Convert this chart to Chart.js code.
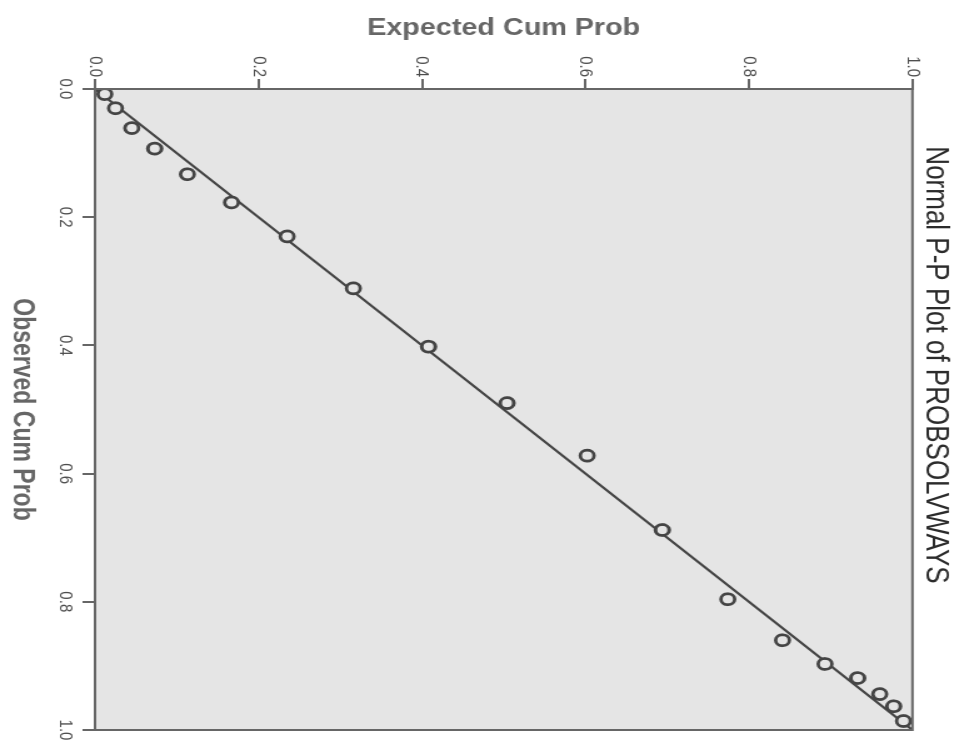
<!DOCTYPE html>
<html>
<head>
<meta charset="utf-8">
<title>Normal P-P Plot of PROBSOLVWAYS</title>
<script src="https://cdn.jsdelivr.net/npm/chart.js@4/dist/chart.umd.min.js"></script>
<style>
  html, body { margin: 0; padding: 0; background: #fff; overflow: hidden; }
  #wrap { position: relative; width: 969px; height: 748px; overflow: hidden; }
  /* the scanned page is turned a quarter clockwise and stretched a bit sideways */
  #pp_chart {
    position: absolute; left: 0; top: 0;
    transform-origin: 0 0;
    transform: translateX(969px) scaleX(1.2503) rotate(90deg);
  }
</style>
</head>
<body>
<div id="wrap"><canvas id="pp_chart" width="748" height="775"></canvas></div>
<script>
// observed vs expected cumulative probabilities, one pair per case
const observed_cum = [0.008, 0.030, 0.061, 0.093, 0.133, 0.177, 0.230, 0.311, 0.402, 0.490,
                      0.572, 0.688, 0.796, 0.860, 0.897, 0.919, 0.944, 0.963, 0.986];
const expected_cum = [0.012, 0.025, 0.045, 0.073, 0.113, 0.167, 0.235, 0.316, 0.408, 0.504,
                      0.602, 0.694, 0.774, 0.841, 0.893, 0.933, 0.960, 0.977, 0.989];
// reference diagonal
const ref_line = [0, 1];
const tick_values = [0, 0.2, 0.4, 0.6, 0.8, 1.0];

const FONT = "'Liberation Sans', Arial, sans-serif";
const PLOT_FILL = "#e5e5e5";
const AXIS_GREY = "#666666";

function make_points() {
  let pts = [];
  for (let i = 0; i < observed_cum.length; i++) {
    pts.push({ x: observed_cum[i], y: expected_cum[i] });
  }
  return pts;
}

// grey plot area plus a frame on the two sides without an axis
const plot_frame = {
  id: 'plot_frame',
  beforeDraw(chart) {
    const { ctx, chartArea: a } = chart;
    ctx.save();
    ctx.fillStyle = PLOT_FILL;
    ctx.fillRect(a.left, a.top, a.right - a.left, a.bottom - a.top);
    ctx.restore();
  },
  afterDatasetsDraw(chart) {
    const { ctx, chartArea: a } = chart;
    ctx.save();
    ctx.strokeStyle = AXIS_GREY;
    ctx.lineWidth = 2;
    ctx.strokeRect(a.left, a.top, a.right - a.left, a.bottom - a.top);
    ctx.restore();
  }
};

function axis_options(title_text, title_padding, fit) {
  return {
    type: 'linear',
    min: ref_line[0],
    max: ref_line[1],
    afterBuildTicks: function (scale) {
      scale.ticks = tick_values.map(v => ({ value: v }));
    },
    ticks: {
      callback: v => Number(v).toFixed(1),
      font: { family: FONT, size: 15 },
      color: "#4d4d4d",
      padding: 3,
      maxRotation: 0,
      autoSkip: false
    },
    grid: {
      drawOnChartArea: false,
      drawTicks: true,
      tickLength: 10,
      color: AXIS_GREY,
      lineWidth: 2
    },
    border: { display: true, color: AXIS_GREY, width: 2 },
    title: {
      display: true,
      text: title_text,
      color: AXIS_GREY,
      font: { family: FONT, size: 23, weight: 'bold' },
      padding: title_padding
    },
    afterFit: fit
  };
}

function draw_pp_plot() {
  const ctx = document.getElementById("pp_chart").getContext('2d');
  let x_axis = axis_options('Observed Cum Prob', { top: 0, bottom: 4 }, function (s) { s.height = 76; });
  x_axis.position = 'bottom';
  x_axis.ticks.padding = 5;
  let y_axis = axis_options('Expected Cum Prob', { top: 15, bottom: 0 }, function (s) { s.width = 89; });
  y_axis.position = 'left';
  y_axis.ticks.padding = 2;

  new Chart(ctx, {
    type: 'scatter',
    data: {
      datasets: [{
        label: 'cases',
        data: make_points(),
        pointStyle: 'circle',
        pointRadius: 5.5,
        pointBorderWidth: 2.8,
        borderColor: "#444444",
        backgroundColor: PLOT_FILL,
        showLine: false
      }, {
        label: 'expected',
        data: ref_line.map(v => ({ x: v, y: v })),
        showLine: true,
        borderColor: "#444444",
        borderWidth: 2.2,
        pointRadius: 0
      }]
    },
    options: {
      responsive: false,
      animation: false,
      devicePixelRatio: 1,
      layout: { padding: { right: 18 } },
      scales: { x: x_axis, y: y_axis },
      plugins: {
        legend: { display: false },
        tooltip: { enabled: false },
        title: {
          display: true,
          text: 'Normal P-P Plot of PROBSOLVWAYS',
          color: "#2b2b2b",
          font: { family: FONT, size: 26, weight: 'normal' },
          padding: { top: 11, bottom: 3 }
        }
      }
    },
    plugins: [plot_frame]
  });
}

draw_pp_plot();
</script>
</body>
</html>
